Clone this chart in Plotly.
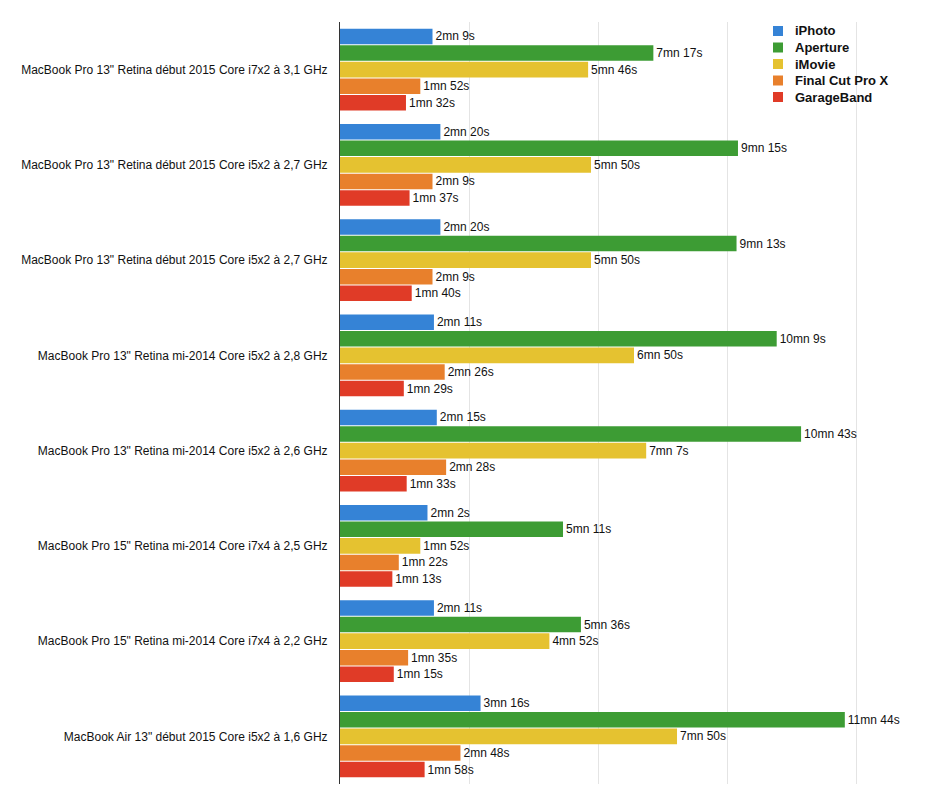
import plotly.graph_objects as go

categories = [
    "MacBook Pro 13\" Retina début 2015 Core i7x2 à 3,1 GHz",
    "MacBook Pro 13\" Retina début 2015 Core i5x2 à 2,7 GHz",
    "MacBook Pro 13\" Retina début 2015 Core i5x2 à 2,7 GHz",
    "MacBook Pro 13\" Retina mi-2014 Core i5x2 à 2,8 GHz",
    "MacBook Pro 13\" Retina mi-2014 Core i5x2 à 2,6 GHz",
    "MacBook Pro 15\" Retina mi-2014 Core i7x4 à 2,5 GHz",
    "MacBook Pro 15\" Retina mi-2014 Core i7x4 à 2,2 GHz",
    "MacBook Air 13\" début 2015 Core i5x2 à 1,6 GHz",
]

# durations in seconds
iphoto = [129, 140, 140, 131, 135, 122, 131, 196]
aperture = [437, 555, 553, 609, 643, 311, 336, 704]
imovie = [346, 350, 350, 410, 427, 112, 292, 470]
finalcut = [112, 129, 129, 146, 148, 82, 95, 168]
garageband = [92, 97, 100, 89, 93, 73, 75, 118]

series_names = ["iPhoto", "Aperture", "iMovie", "Final Cut Pro X", "GarageBand"]
series_values = [iphoto, aperture, imovie, finalcut, garageband]
colors = ["#3583d6", "#3d9c34", "#e5c230", "#e8802c", "#e03b27"]

FONT = "Liberation Sans, Arial, sans-serif"


def fmt(s):
    return f"{s // 60}mn {s % 60}s"


positions = list(range(len(categories)))

W, H = 920, 782
ML, MT, MB, MR = 332, 14, 6, 0
PW, PH = W - ML - MR, H - MT - MB

fig = go.Figure()
for name, vals, col in zip(series_names, series_values, colors):
    fig.add_trace(go.Bar(
        name=name,
        y=positions,
        x=vals,
        orientation="h",
        marker=dict(color=col, line=dict(width=0)),
        text=[fmt(v) for v in vals],
        textposition="outside",
        textfont=dict(size=12, color="#111111", family=FONT),
        constraintext="none",
        cliponaxis=False,
        hoverinfo="skip",
        showlegend=False,
    ))

# manual legend (compact spacing like the original)
shapes = []
annotations = []
leg_x0 = 765
leg_y0 = 23
leg_dy = 16.5
for i, (name, col) in enumerate(zip(series_names, colors)):
    yc = leg_y0 + i * leg_dy
    shapes.append(dict(
        type="rect", xref="paper", yref="paper",
        x0=(leg_x0 - ML) / PW, x1=(leg_x0 + 10 - ML) / PW,
        y0=1 - (yc + 5 - MT) / PH, y1=1 - (yc - 5 - MT) / PH,
        fillcolor=col, line=dict(width=0), layer="above",
    ))
    annotations.append(dict(
        xref="paper", yref="paper",
        x=(leg_x0 + 20 - ML) / PW, y=1 - (yc - MT) / PH,
        xanchor="left", yanchor="middle", showarrow=False,
        text=f"<b>{name}</b>",
        font=dict(size=13, family=FONT, color="#111111"),
    ))

fig.update_layout(
    width=W,
    height=H,
    margin=dict(l=ML, r=MR, t=MT, b=MB, autoexpand=False),
    paper_bgcolor="white",
    plot_bgcolor="white",
    barmode="group",
    bargap=0.13,
    bargroupgap=0.06,
    font=dict(family=FONT, color="#111111"),
    showlegend=False,
    shapes=shapes,
    annotations=annotations,
    xaxis=dict(
        range=[0, 820],
        dtick=180,
        tick0=0,
        showgrid=True,
        gridcolor="#e4e4e4",
        gridwidth=1,
        zeroline=False,
        showticklabels=False,
        ticks="",
        automargin=False,
    ),
    yaxis=dict(
        range=[len(categories) - 0.5, -0.5],
        tickmode="array",
        tickvals=positions,
        ticktext=categories,
        showline=True,
        linecolor="#333333",
        linewidth=1,
        ticks="",
        ticklabelstandoff=9,
        tickfont=dict(size=12, color="#111111", family=FONT),
        showgrid=False,
        zeroline=False,
        automargin=False,
    ),
)

fig.write_html("out.html")
